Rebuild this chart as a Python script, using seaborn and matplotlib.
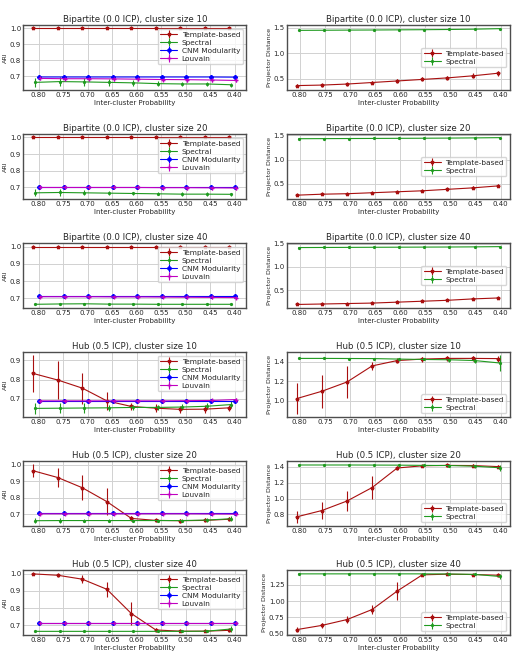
import numpy as np
import matplotlib
matplotlib.use("Agg")
import matplotlib.pyplot as plt
import seaborn as sns
from matplotlib.ticker import MultipleLocator

# inter-cluster probability (x axis, drawn reversed)
icp = [0.80, 0.75, 0.70, 0.65, 0.60, 0.55, 0.50, 0.45, 0.40]

# ---- Bipartite (0.0 ICP) ----
b10_ari_tmpl = [1.0, 1.0, 1.0, 1.0, 1.0, 1.0, 1.0, 1.0, 1.0]
b10_ari_tmpl_err = [0.002, 0.002, 0.002, 0.002, 0.002, 0.002, 0.002, 0.002, 0.002]
b10_ari_spec = [0.660, 0.665, 0.663, 0.660, 0.657, 0.652, 0.650, 0.650, 0.645]
b10_ari_spec_err = [0.03, 0.03, 0.025, 0.02, 0.02, 0.015, 0.015, 0.015, 0.012]
b10_ari_cnm = [0.694, 0.694, 0.694, 0.694, 0.694, 0.694, 0.694, 0.694, 0.693]
b10_ari_cnm_err = [0.01, 0.01, 0.01, 0.01, 0.01, 0.01, 0.01, 0.01, 0.01]
b10_ari_louv = [0.685, 0.683, 0.683, 0.682, 0.680, 0.678, 0.677, 0.675, 0.672]
b10_ari_louv_err = [0.012, 0.012, 0.012, 0.012, 0.012, 0.012, 0.012, 0.012, 0.012]

b10_pd_tmpl = [0.37, 0.38, 0.40, 0.43, 0.46, 0.49, 0.52, 0.56, 0.61]
b10_pd_tmpl_err = [0.03, 0.03, 0.03, 0.03, 0.04, 0.04, 0.04, 0.05, 0.05]
b10_pd_spec = [1.445, 1.447, 1.450, 1.452, 1.455, 1.458, 1.462, 1.468, 1.478]
b10_pd_spec_err = [0.01, 0.01, 0.01, 0.01, 0.01, 0.01, 0.01, 0.01, 0.01]

b20_ari_tmpl = [1.0, 1.0, 1.0, 1.0, 1.0, 1.0, 1.0, 1.0, 1.0]
b20_ari_tmpl_err = [0.002, 0.002, 0.002, 0.002, 0.002, 0.002, 0.002, 0.002, 0.002]
b20_ari_spec = [0.668, 0.670, 0.668, 0.666, 0.664, 0.662, 0.660, 0.660, 0.659]
b20_ari_spec_err = [0.02, 0.02, 0.015, 0.012, 0.01, 0.01, 0.01, 0.01, 0.01]
b20_ari_cnm = [0.704, 0.704, 0.704, 0.704, 0.704, 0.704, 0.704, 0.704, 0.704]
b20_ari_cnm_err = [0.008, 0.008, 0.008, 0.008, 0.008, 0.008, 0.008, 0.008, 0.008]
b20_ari_louv = [0.700, 0.700, 0.700, 0.700, 0.700, 0.699, 0.699, 0.698, 0.697]
b20_ari_louv_err = [0.012, 0.012, 0.012, 0.012, 0.012, 0.012, 0.012, 0.012, 0.012]

b20_pd_tmpl = [0.27, 0.29, 0.30, 0.32, 0.34, 0.36, 0.39, 0.42, 0.46]
b20_pd_tmpl_err = [0.02, 0.02, 0.02, 0.02, 0.02, 0.025, 0.025, 0.03, 0.03]
b20_pd_spec = [1.430, 1.432, 1.434, 1.436, 1.438, 1.440, 1.443, 1.447, 1.452]
b20_pd_spec_err = [0.01, 0.01, 0.01, 0.01, 0.01, 0.01, 0.01, 0.01, 0.01]

b40_ari_tmpl = [1.0, 1.0, 1.0, 1.0, 1.0, 1.0, 1.0, 1.0, 1.0]
b40_ari_tmpl_err = [0.002, 0.002, 0.002, 0.002, 0.002, 0.002, 0.002, 0.002, 0.002]
b40_ari_spec = [0.665, 0.667, 0.668, 0.666, 0.666, 0.665, 0.665, 0.665, 0.665]
b40_ari_spec_err = [0.005, 0.005, 0.005, 0.005, 0.005, 0.005, 0.005, 0.005, 0.005]
b40_ari_cnm = [0.711, 0.711, 0.711, 0.711, 0.711, 0.711, 0.711, 0.711, 0.711]
b40_ari_cnm_err = [0.006, 0.006, 0.006, 0.006, 0.006, 0.006, 0.006, 0.006, 0.006]
b40_ari_louv = [0.709, 0.709, 0.709, 0.708, 0.708, 0.707, 0.706, 0.705, 0.704]
b40_ari_louv_err = [0.008, 0.008, 0.008, 0.008, 0.008, 0.008, 0.008, 0.008, 0.008]

b40_pd_tmpl = [0.19, 0.20, 0.21, 0.22, 0.24, 0.26, 0.28, 0.31, 0.33]
b40_pd_tmpl_err = [0.015, 0.015, 0.015, 0.015, 0.02, 0.02, 0.02, 0.02, 0.02]
b40_pd_spec = [1.420, 1.422, 1.424, 1.426, 1.428, 1.430, 1.432, 1.435, 1.440]
b40_pd_spec_err = [0.01, 0.01, 0.01, 0.01, 0.01, 0.01, 0.01, 0.01, 0.01]

# ---- Hub (0.5 ICP) ----
h10_ari_tmpl = [0.832, 0.798, 0.756, 0.690, 0.661, 0.652, 0.646, 0.647, 0.654]
h10_ari_tmpl_err = [0.095, 0.10, 0.08, 0.045, 0.02, 0.02, 0.02, 0.02, 0.015]
h10_ari_spec = [0.651, 0.652, 0.653, 0.654, 0.656, 0.656, 0.658, 0.662, 0.671]
h10_ari_spec_err = [0.03, 0.025, 0.025, 0.015, 0.015, 0.015, 0.015, 0.015, 0.02]
h10_ari_cnm = [0.691, 0.691, 0.691, 0.691, 0.691, 0.691, 0.691, 0.691, 0.691]
h10_ari_cnm_err = [0.01, 0.01, 0.01, 0.01, 0.01, 0.01, 0.01, 0.01, 0.01]
h10_ari_louv = [0.690, 0.690, 0.690, 0.690, 0.690, 0.690, 0.691, 0.692, 0.697]
h10_ari_louv_err = [0.008, 0.008, 0.008, 0.008, 0.008, 0.008, 0.008, 0.008, 0.008]

h10_pd_tmpl = [1.02, 1.095, 1.19, 1.355, 1.41, 1.425, 1.432, 1.432, 1.43]
h10_pd_tmpl_err = [0.16, 0.17, 0.16, 0.045, 0.03, 0.025, 0.025, 0.025, 0.03]
h10_pd_spec = [1.432, 1.432, 1.431, 1.430, 1.425, 1.421, 1.418, 1.410, 1.385]
h10_pd_spec_err = [0.005, 0.005, 0.005, 0.008, 0.01, 0.01, 0.02, 0.03, 0.08]

h20_ari_tmpl = [0.963, 0.922, 0.860, 0.776, 0.674, 0.662, 0.660, 0.662, 0.669]
h20_ari_tmpl_err = [0.04, 0.06, 0.075, 0.08, 0.015, 0.01, 0.012, 0.012, 0.012]
h20_ari_spec = [0.660, 0.661, 0.661, 0.661, 0.661, 0.661, 0.661, 0.664, 0.672]
h20_ari_spec_err = [0.015, 0.015, 0.01, 0.01, 0.01, 0.01, 0.01, 0.01, 0.015]
h20_ari_cnm = [0.704, 0.704, 0.704, 0.704, 0.704, 0.704, 0.704, 0.704, 0.704]
h20_ari_cnm_err = [0.006, 0.006, 0.006, 0.006, 0.006, 0.006, 0.006, 0.006, 0.006]
h20_ari_louv = [0.702, 0.702, 0.702, 0.702, 0.702, 0.702, 0.702, 0.701, 0.700]
h20_ari_louv_err = [0.006, 0.006, 0.006, 0.006, 0.006, 0.006, 0.006, 0.006, 0.006]

h20_pd_tmpl = [0.77, 0.85, 0.97, 1.14, 1.387, 1.415, 1.42, 1.418, 1.405]
h20_pd_tmpl_err = [0.08, 0.11, 0.13, 0.14, 0.03, 0.015, 0.015, 0.015, 0.02]
h20_pd_spec = [1.425, 1.425, 1.425, 1.424, 1.423, 1.420, 1.418, 1.410, 1.390]
h20_pd_spec_err = [0.005, 0.005, 0.005, 0.005, 0.008, 0.01, 0.015, 0.02, 0.04]

h40_ari_tmpl = [1.0, 0.992, 0.969, 0.910, 0.768, 0.672, 0.665, 0.665, 0.670]
h40_ari_tmpl_err = [0.004, 0.01, 0.025, 0.045, 0.065, 0.01, 0.005, 0.005, 0.01]
h40_ari_spec = [0.664, 0.664, 0.664, 0.664, 0.664, 0.664, 0.664, 0.665, 0.678]
h40_ari_spec_err = [0.004, 0.004, 0.004, 0.004, 0.004, 0.004, 0.004, 0.006, 0.015]
h40_ari_cnm = [0.711, 0.711, 0.711, 0.711, 0.711, 0.711, 0.711, 0.711, 0.711]
h40_ari_cnm_err = [0.004, 0.004, 0.004, 0.004, 0.004, 0.004, 0.004, 0.004, 0.004]
h40_ari_louv = [0.710, 0.710, 0.710, 0.710, 0.710, 0.710, 0.710, 0.710, 0.710]
h40_ari_louv_err = [0.004, 0.004, 0.004, 0.004, 0.004, 0.004, 0.004, 0.004, 0.004]

h40_pd_tmpl = [0.56, 0.625, 0.715, 0.870, 1.155, 1.405, 1.415, 1.41, 1.40]
h40_pd_tmpl_err = [0.04, 0.04, 0.05, 0.07, 0.14, 0.015, 0.015, 0.015, 0.025]
h40_pd_spec = [1.42, 1.42, 1.42, 1.42, 1.42, 1.42, 1.418, 1.412, 1.38]
h40_pd_spec_err = [0.005, 0.005, 0.005, 0.005, 0.005, 0.006, 0.008, 0.01, 0.04]

titles = ["Bipartite (0.0 ICP), cluster size 10", "Bipartite (0.0 ICP), cluster size 20",
          "Bipartite (0.0 ICP), cluster size 40", "Hub (0.5 ICP), cluster size 10",
          "Hub (0.5 ICP), cluster size 20", "Hub (0.5 ICP), cluster size 40"]

methods = ["Template-based", "Spectral", "CNM Modularity", "Louvain"]
colors = {"Template-based": "#a80f0f", "Spectral": "#1f9a1f",
          "CNM Modularity": "#0000ff", "Louvain": "#c000c0"}
markers = {"Template-based": "*", "Spectral": ".", "CNM Modularity": "P", "Louvain": "+"}
# small horizontal shift per method so the bars do not overlap
shift_ari = {"Template-based": 0.011, "Spectral": 0.007, "CNM Modularity": -0.001, "Louvain": -0.003}
shift_pd = {"Template-based": 0.006, "Spectral": 0.002}

ari_rows = [
    [(b10_ari_tmpl, b10_ari_tmpl_err), (b10_ari_spec, b10_ari_spec_err), (b10_ari_cnm, b10_ari_cnm_err), (b10_ari_louv, b10_ari_louv_err)],
    [(b20_ari_tmpl, b20_ari_tmpl_err), (b20_ari_spec, b20_ari_spec_err), (b20_ari_cnm, b20_ari_cnm_err), (b20_ari_louv, b20_ari_louv_err)],
    [(b40_ari_tmpl, b40_ari_tmpl_err), (b40_ari_spec, b40_ari_spec_err), (b40_ari_cnm, b40_ari_cnm_err), (b40_ari_louv, b40_ari_louv_err)],
    [(h10_ari_tmpl, h10_ari_tmpl_err), (h10_ari_spec, h10_ari_spec_err), (h10_ari_cnm, h10_ari_cnm_err), (h10_ari_louv, h10_ari_louv_err)],
    [(h20_ari_tmpl, h20_ari_tmpl_err), (h20_ari_spec, h20_ari_spec_err), (h20_ari_cnm, h20_ari_cnm_err), (h20_ari_louv, h20_ari_louv_err)],
    [(h40_ari_tmpl, h40_ari_tmpl_err), (h40_ari_spec, h40_ari_spec_err), (h40_ari_cnm, h40_ari_cnm_err), (h40_ari_louv, h40_ari_louv_err)],
]
pd_rows = [
    [(b10_pd_tmpl, b10_pd_tmpl_err), (b10_pd_spec, b10_pd_spec_err)],
    [(b20_pd_tmpl, b20_pd_tmpl_err), (b20_pd_spec, b20_pd_spec_err)],
    [(b40_pd_tmpl, b40_pd_tmpl_err), (b40_pd_spec, b40_pd_spec_err)],
    [(h10_pd_tmpl, h10_pd_tmpl_err), (h10_pd_spec, h10_pd_spec_err)],
    [(h20_pd_tmpl, h20_pd_tmpl_err), (h20_pd_spec, h20_pd_spec_err)],
    [(h40_pd_tmpl, h40_pd_tmpl_err), (h40_pd_spec, h40_pd_spec_err)],
]
pd_steps = [0.5, 0.5, 0.5, 0.2, 0.2, 0.25]
pd_legend_loc = ["center right", "center right", "center right", "lower right", "lower right", "lower right"]

sns.set_style("whitegrid", {"axes.edgecolor": "0.3", "grid.color": "0.82"})
plt.rcParams["font.family"] = ["DejaVu Sans"]
plt.rcParams["axes.linewidth"] = 1.0

fs = 5.0
fig, axes = plt.subplots(6, 2, figsize=(5.15, 6.63), dpi=100)
fig.subplots_adjust(left=0.045, right=0.99, top=0.962, bottom=0.042, hspace=0.68, wspace=0.18)


def draw(ax, series, names, shifts):
    for (vals, errs), name in zip(series, names):
        xs = np.array(icp) + shifts[name]
        ax.errorbar(xs, vals, yerr=errs, label=name, color=colors[name], marker=markers[name],
                    markersize=2.6, linewidth=0.8, elinewidth=0.8, capsize=0)


for r in range(6):
    ax = axes[r, 0]
    draw(ax, ari_rows[r], methods, shift_ari)
    ax.invert_xaxis()
    ax.yaxis.set_major_locator(MultipleLocator(0.1))
    ax.set_ylabel("ARI", fontsize=fs - 0.4, labelpad=1)
    ax.legend(loc="upper right", fontsize=5.3, frameon=True, handlelength=2.3, borderpad=0.35,
              labelspacing=0.25, handletextpad=0.6)

    ax = axes[r, 1]
    draw(ax, pd_rows[r], methods[:2], shift_pd)
    ax.invert_xaxis()
    ax.yaxis.set_major_locator(MultipleLocator(pd_steps[r]))
    ax.set_ylabel("Projector Distance", fontsize=fs - 0.4, labelpad=1)
    ax.legend(loc=pd_legend_loc[r], fontsize=5.3, frameon=True, handlelength=2.3, borderpad=0.35,
              labelspacing=0.25, handletextpad=0.6)

    for ax in axes[r]:
        ax.set_title(titles[r], fontsize=6.2, pad=2)
        ax.set_xticks(icp)
        ax.set_xticklabels([f"{v:.2f}" for v in icp])
        ax.set_xlabel("Inter-cluster Probability", fontsize=fs, labelpad=1)
        ax.tick_params(labelsize=fs, pad=1.5, length=0)
        ax.grid(True, linewidth=0.7)

fig.savefig("out.png", dpi=100)
